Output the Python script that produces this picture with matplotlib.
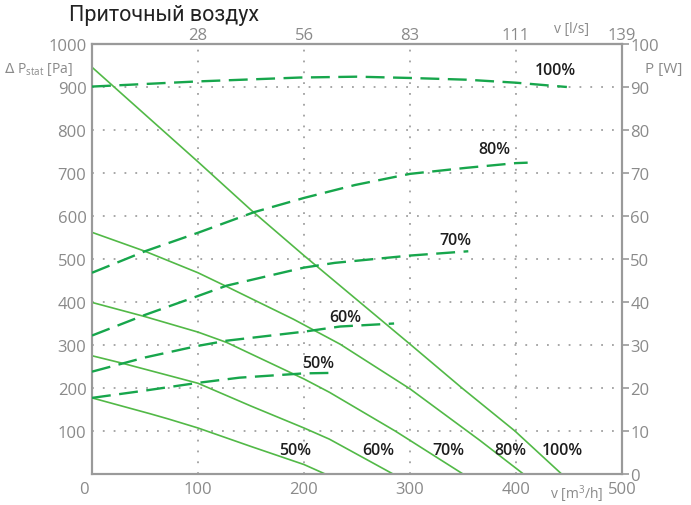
#!/usr/bin/env python3
import matplotlib
matplotlib.use('Agg')
import matplotlib.pyplot as plt
import matplotlib.transforms as mtransforms

plt.rcParams['font.family'] = ['Open Sans', 'DejaVu Sans']

# ====== Fan curves: static pressure (Pa) vs airflow (m3/h) ======
flow_100 = [0, 50, 100, 150, 200, 250, 300, 349, 399, 443]
pst_100 = [946, 836, 726, 614, 508, 405, 302, 200, 100, 0]

flow_80 = [0, 50, 100, 127, 190, 234, 300, 366, 407]
pst_80 = [562, 518, 468, 436, 360, 302, 198, 78, 0]

flow_70 = [0, 50, 100, 127, 200, 224, 286, 350]
pst_70 = [399, 366, 330, 306, 221, 190, 100, 0]

flow_60 = [0, 28, 100, 150, 200, 224, 284]
pst_60 = [275, 258, 211, 158, 107, 81, 0]

flow_50 = [0, 55, 72, 100, 150, 200, 220]
pst_50 = [177, 140, 128, 107, 64, 22, 0]

# ====== Power input (W) vs airflow (m3/h) ======
pflow_100 = [0, 100, 196, 250, 300, 353, 400, 448]
power_100 = [90.1, 91.3, 92.2, 92.4, 92.1, 91.7, 91.0, 90.0]

pflow_80 = [0, 50, 100, 153, 200, 248, 300, 353, 400, 411]
power_80 = [46.8, 51.8, 56.1, 60.9, 64.2, 67.2, 69.8, 71.2, 72.3, 72.4]

pflow_70 = [0, 50, 100, 127, 200, 229, 300, 355]
power_70 = [32.2, 37.0, 41.4, 43.8, 48.0, 49.1, 50.8, 51.8]

pflow_60 = [0, 50, 100, 127, 200, 234, 285]
power_60 = [23.8, 27.1, 29.8, 31.0, 33.1, 34.3, 35.0]

pflow_50 = [0, 50, 100, 139, 200, 223]
power_50 = [17.7, 19.4, 21.2, 22.4, 23.4, 23.5]

speed_labels = ['100%', '80%', '70%', '60%', '50%']

x_ticks = [0, 100, 200, 300, 400, 500]
y_ticks = [100, 200, 300, 400, 500, 600, 700, 800, 900, 1000]
p_ticks = [0, 10, 20, 30, 40, 50, 60, 70, 80, 90, 100]
ls_ticks = [100 / 3.6, 200 / 3.6, 300 / 3.6, 400 / 3.6, 500 / 3.6]
# =================================================================

GRAY = '#8a8a8a'
SPINE = '#9a9a9a'
SOLID = '#52b947'
DASHED = '#17a64c'
TEXT = '#1e1e1e'


def plot():
    fig = plt.figure(figsize=(6.91, 5.06), dpi=100)
    ax = fig.add_axes([92 / 691, 1 - 475 / 506, 530 / 691, 430 / 506])
    ax2 = ax.twinx()

    ax.set_xlim(0, 500)
    ax.set_ylim(0, 1000)
    ax2.set_ylim(0, 100)

    # dotted grid
    for y in y_ticks[:-1]:
        ax.axhline(y, color='#a0a0a0', lw=1.3, ls=(0, (1, 5)), zorder=1)
    for x in x_ticks[1:-1]:
        ax.axvline(x, color='#a0a0a0', lw=1.3, ls=(0, (1, 5)), zorder=1)

    solids = [(flow_100, pst_100), (flow_80, pst_80), (flow_70, pst_70),
              (flow_60, pst_60), (flow_50, pst_50)]
    for f, p in solids:
        ax.plot(f, p, color=SOLID, lw=1.2, zorder=3, solid_joinstyle='round')

    powers = [(pflow_100, power_100), (pflow_80, power_80), (pflow_70, power_70),
              (pflow_60, power_60), (pflow_50, power_50)]
    for f, w in powers:
        ax2.plot(f, w, color=DASHED, lw=1.7, dashes=(8, 3.6), zorder=3)

    # curve labels
    top_pos = [(437, 940), (380, 756), (343, 544), (239, 365), (213, 258)]
    bottom_pos = [(444, 56), (395, 56), (336, 56), (270, 56), (192, 56)]
    for lbl, (x, y) in zip(speed_labels, top_pos):
        ax.text(x, y, lbl, ha='center', va='center', fontsize=11.5,
                color=TEXT, fontweight='semibold', zorder=5)
    for lbl, (x, y) in zip(speed_labels, bottom_pos):
        ax.text(x, y, lbl, ha='center', va='center', fontsize=11.5,
                color=TEXT, fontweight='semibold', zorder=5)

    # axes styling
    for a in (ax, ax2):
        for s in a.spines.values():
            s.set_color(SPINE)
            s.set_linewidth(1.5)

    ax.set_xticks(x_ticks)
    ax.set_xticklabels([str(v) for v in x_ticks])
    ax.set_yticks(y_ticks)
    ax.set_yticklabels([str(v) for v in y_ticks])
    ax.tick_params(axis='both', length=0, labelsize=12, labelcolor=GRAY, pad=4)
    ax.tick_params(axis='x', pad=5)
    lab0 = ax.get_xticklabels()[0]
    lab0.set_transform(lab0.get_transform() +
                       mtransforms.ScaledTranslation(-8 / 100, 0, fig.dpi_scale_trans))

    ax2.set_yticks(p_ticks)
    ax2.set_yticklabels([str(v) for v in p_ticks])
    ax2.tick_params(axis='y', length=5, width=1.2, color=SPINE, labelsize=12,
                    labelcolor=GRAY, pad=1)

    top = ax.secondary_xaxis('top', functions=(lambda q: q / 3.6, lambda v: v * 3.6))
    top.set_xticks(ls_ticks)
    top.set_xticklabels(['{:.0f}'.format(v) for v in ls_ticks])
    top.tick_params(length=0, labelsize=12, labelcolor=GRAY, pad=1)
    top.spines['top'].set_color(SPINE)
    top.spines['top'].set_linewidth(1.5)

    # titles
    fig.text(69 / 691, 1 - 21 / 506, 'Приточный воздух', fontsize=15.5,
             family=['Roboto', 'DejaVu Sans'], color='#222222',
             ha='left', va='baseline')
    fig.text(73 / 691, 1 - 70 / 506, r'$\Delta$ P$_{\mathregular{stat}}$ [Pa]',
             fontsize=10, color=GRAY, ha='right', va='center')
    fig.text(645 / 691, 1 - 69 / 506, 'P [W]', fontsize=11, color=GRAY,
             ha='left', va='center')
    fig.text(571 / 691, 1 - 29 / 506, 'v [l/s]', fontsize=10, color=GRAY,
             ha='center', va='center')
    fig.text(577 / 691, 1 - 494 / 506, r'v [m$^{\mathregular{3}}$/h]', fontsize=10,
             color=GRAY, ha='center', va='center')

    fig.savefig('out.png', dpi=100)


def main():
    plot()


if __name__ == '__main__':
    main()
